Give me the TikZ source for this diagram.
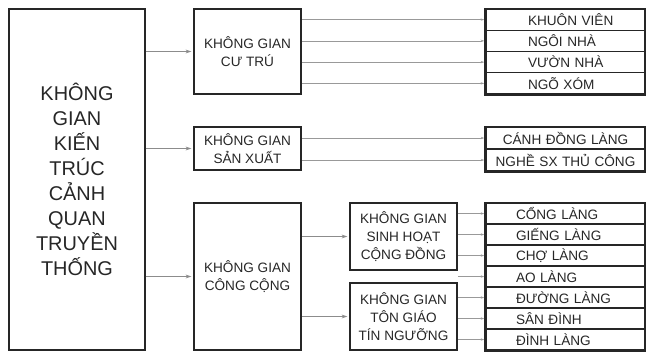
\documentclass[tikz,border=0pt]{standalone}
\usepackage{fontspec}
\setmainfont{Liberation Sans}
\usetikzlibrary{arrows.meta}

\begin{document}
\begin{tikzpicture}[x=0.03cm,y=-0.03cm,
  box/.style={draw=black!85,line width=1.3pt,inner sep=0pt,align=center,text=black!85,minimum width=3.21cm,
    font=\fontsize{11.6}{15.4}\selectfont},
  row/.style={draw=black!85,line width=1pt,inner ysep=0pt,inner xsep=0pt,text width=4.77cm,text=black!85,
    font=\fontsize{11.6}{14}\selectfont},
  rim/.style={draw=black!85,line width=1.8pt},
  arrow/.style={draw=black!45,line width=0.8pt,-{Stealth[length=5pt,width=3.2pt]},shorten >=1.5pt},
  link/.style={draw=black!40,line width=0.6pt,-{Stealth[length=3pt,width=2pt]},shorten >=1pt}]
\useasboundingbox (0,0) rectangle (646,352);

% main box
\node[box,line width=1.2pt,minimum width=4.08cm,minimum height=10.23cm,font=\fontsize{17}{21.3}\selectfont] (kgkt) at (77,179.5)
  {\uppercase{KHÔNG\\GIAN\\KIẾN\\TRÚC\\CẢNH\\QUAN\\TRUYỀN\\THỐNG}};

% second level
\node[box,minimum height=2.55cm] (cutru) at (247.5,51.5) {\uppercase{KHÔNG GIAN\\CƯ TRÚ}};
\node[box,minimum height=1.29cm] (sanxuat) at (247.5,148.5) {\uppercase{KHÔNG GIAN\\SẢN XUẤT}};
\node[box,minimum height=4.41cm] (congcong) at (247.5,276.5) {\uppercase{KHÔNG GIAN\\CÔNG CỘNG}};
\node[box,minimum height=2.01cm] (sinhhoat) at (403.5,236.5) {\uppercase{KHÔNG GIAN\\SINH HOẠT\\CỘNG ĐỒNG}};
\node[box,minimum height=2.01cm] (tongiao) at (403.5,316.5) {\uppercase{KHÔNG GIAN\\TÔN GIÁO\\TÍN NGƯỠNG}};

\draw[arrow] (kgkt.east |- cutru.west) -- (cutru.west);
\draw[arrow] (kgkt.east |- sanxuat.west) -- (sanxuat.west);
\draw[arrow] (kgkt.east |- congcong.west) -- (congcong.west);
\draw[arrow] (congcong.east |- sinhhoat.west) -- (sinhhoat.west);
\draw[arrow] (congcong.east |- tongiao.west) -- (tongiao.west);

% right columns
\foreach \t [count=\i] in {KHUÔN VIÊN,NGÔI NHÀ,VƯỜN NHÀ,NGÕ XÓM}
  \node[row,minimum height=0.6375cm,align=left,execute at begin node={\hspace*{1.26cm}}] (ct\i) at (565.5,{9+21.25*(\i-0.5)}) {\uppercase\expandafter{\t}};
\foreach \t [count=\i] in {CÁNH ĐỒNG LÀNG,NGHỀ SX THỦ CÔNG}
  \node[row,minimum height=0.66cm,align=center] (sx\i) at (565.5,{127+22*(\i-0.5)}) {\uppercase\expandafter{\t}};
\foreach \t [count=\i] in {CỔNG LÀNG,GIẾNG LÀNG,CHỢ LÀNG,AO LÀNG,ĐƯỜNG LÀNG,SÂN ĐÌNH,ĐÌNH LÀNG}
  \node[row,minimum height=0.63cm,align=left,execute at begin node={\hspace*{0.9cm}}] (cc\i) at (565.5,{203+21*(\i-0.5)}) {\uppercase\expandafter{\t}};

% heavier left and bottom edges of the columns
\draw[rim] (ct1.north west) -- (ct4.south west) -- (ct4.south east);
\draw[rim] (sx1.north west) -- (sx2.south west) -- (sx2.south east);
\draw[rim] (cc1.north west) -- (cc7.south west) -- (cc7.south east);

\foreach \i in {1,...,4}
  \draw[link] (cutru.east |- ct\i.west) -- (ct\i.west);
\foreach \i in {1,2}
  \draw[link] (sanxuat.east |- sx\i.west) -- (sx\i.west);
\foreach \i in {1,2,3}
  \draw[link] (sinhhoat.east |- cc\i.west) -- (cc\i.west);
\draw[link] (tongiao.east |- cc4.west) -- (cc4.west);
\foreach \i in {5,6,7}
  \draw[link] (tongiao.east |- cc\i.west) -- (cc\i.west);
\end{tikzpicture}
\end{document}
